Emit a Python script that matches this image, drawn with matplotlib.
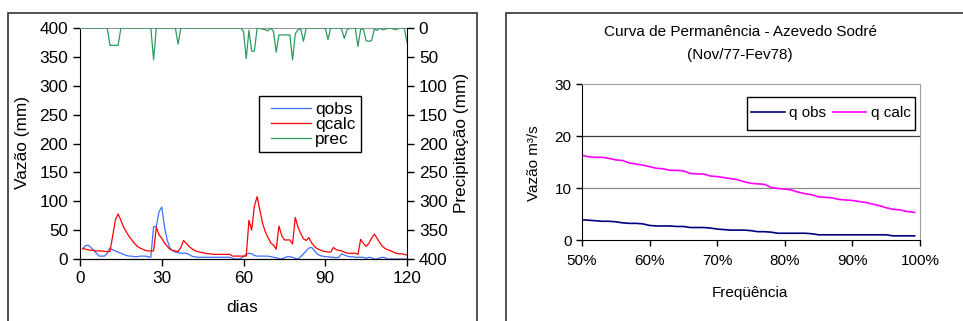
import matplotlib
matplotlib.use("Agg")
import matplotlib.pyplot as plt
from matplotlib.patches import Rectangle
from matplotlib.ticker import PercentFormatter, MultipleLocator

plt.rcParams['font.family'] = ['Liberation Sans', 'DejaVu Sans']

# ---------------- Data: left chart (daily series, days 1..120) ----------------
days = list(range(1, 121))
qobs = [18, 23, 24, 20, 15, 10, 5, 5, 5, 10,
        19, 16, 14, 12, 10, 8, 6, 5, 5, 4,
        4, 5, 5, 5, 4, 3, 56, 56, 82, 90,
        56, 33, 19, 14, 12, 11, 10, 10, 10, 8,
        5, 4, 3, 3, 3, 3, 3, 3, 3, 3,
        3, 3, 3, 3, 3, 1, 0, 0, 1, 4,
        8, 10, 9, 6, 5, 5, 5, 5, 5, 4,
        3, 2, 1, 0, 2, 4, 4, 3, 1, 0,
        4, 9, 14, 19, 20, 15, 9, 6, 5, 4,
        4, 3, 3, 2, 3, 9, 7, 5, 4, 4,
        3, 3, 3, 3, 1, 3, 2, 0, 0, 2,
        3, 2, 0, 0, 0, 0, 0, 0, 0, 0]
qcalc = [18, 17, 16, 15, 15, 14, 14, 14, 13, 13,
         13, 40, 68, 78, 67, 55, 47, 39, 33, 27,
         22, 19, 17, 15, 14, 14, 14, 55, 42, 36,
         28, 22, 17, 15, 14, 13, 20, 32, 27, 22,
         18, 15, 13, 12, 11, 10, 9, 9, 8, 8,
         8, 8, 8, 8, 8, 5, 5, 5, 5, 5,
         5, 67, 50, 92, 108, 85, 62, 47, 37, 28,
         24, 17, 57, 41, 33, 33, 33, 26, 72, 55,
         44, 35, 32, 37, 28, 22, 18, 16, 14, 13,
         12, 12, 20, 16, 15, 14, 12, 10, 10, 10,
         10, 8, 34, 27, 22, 27, 36, 43, 36, 28,
         22, 18, 16, 14, 12, 10, 9, 9, 8, 7]
prec = [0, 0, 0, 0, 0, 0, 0, 0, 0, 0,
        30, 30, 30, 30, 0, 0, 0, 0, 0, 0,
        0, 0, 0, 0, 0, 0, 55, 0, 0, 0,
        0, 0, 0, 0, 0, 28, 0, 0, 0, 0,
        0, 0, 0, 0, 0, 0, 0, 0, 0, 0,
        0, 0, 0, 0, 0, 0, 0, 0, 0, 6,
        53, 4, 40, 40, 0, 0, 2, 3, 5, 0,
        6, 42, 12, 12, 12, 12, 12, 55, 10, 3,
        1, 23, 0, 0, 0, 0, 0, 0, 0, 0,
        20, 0, 0, 0, 0, 2, 18, 3, 0, 0,
        0, 32, 2, 2, 22, 23, 22, 2, 4, 0,
        3, 2, 0, 0, 2, 3, 0, 0, 0, 25]

# ---------------- Data: right chart (flow duration curve) ----------------
freq = [0.50, 0.51, 0.52, 0.53, 0.54, 0.55, 0.56, 0.57, 0.58, 0.59,
        0.60, 0.61, 0.62, 0.63, 0.64, 0.65, 0.66, 0.67, 0.68, 0.69,
        0.70, 0.71, 0.72, 0.73, 0.74, 0.75, 0.76, 0.77, 0.78, 0.79,
        0.80, 0.81, 0.82, 0.83, 0.84, 0.85, 0.86, 0.87, 0.88, 0.89,
        0.90, 0.91, 0.92, 0.93, 0.94, 0.95, 0.96, 0.97, 0.98, 0.992]
q_obs = [3.9, 3.8, 3.7, 3.6, 3.6, 3.5, 3.3, 3.2, 3.2, 3.1,
         2.8, 2.7, 2.7, 2.7, 2.6, 2.6, 2.4, 2.4, 2.4, 2.3,
         2.1, 2.0, 1.9, 1.9, 1.9, 1.8, 1.6, 1.6, 1.5, 1.3,
         1.3, 1.3, 1.3, 1.3, 1.2, 1.0, 1.0, 1.0, 1.0, 1.0,
         1.0, 1.0, 1.0, 1.0, 1.0, 1.0, 0.8, 0.8, 0.8, 0.8]
q_calc = [16.3, 16.0, 15.9, 15.9, 15.7, 15.4, 15.3, 14.8, 14.6, 14.4,
          14.1, 13.8, 13.7, 13.4, 13.4, 13.3, 12.8, 12.7, 12.7, 12.3,
          12.2, 12.0, 11.8, 11.6, 11.2, 10.9, 10.8, 10.7, 10.1, 9.9,
          9.8, 9.6, 9.2, 8.9, 8.7, 8.3, 8.2, 8.1, 7.8, 7.7,
          7.6, 7.4, 7.2, 6.9, 6.6, 6.2, 5.9, 5.8, 5.5, 5.3]

W, H = 963, 321
fig = plt.figure(figsize=(W / 100, H / 100), dpi=100)

def fx(px):
    return px / W

def fy(py):
    return 1 - py / H

def box(x0, y0, x1, y1, ec='#333333', lw=1.2, z=1):
    fig.patches.append(Rectangle((fx(x0), fy(y1)), fx(x1) - fx(x0), fy(y0) - fy(y1),
                                 transform=fig.transFigure, fill=False, ec=ec, lw=lw,
                                 zorder=z))

# frames around each chart
box(8, 13, 477, 340)
box(506, 13, 1000, 340)

FS_L = 12.4
FS_R = 11

# ---------------- Left chart ----------------
ax = fig.add_axes([fx(80), fy(259), fx(407) - fx(80), fy(28) - fy(259)])
l1, = ax.plot(days, qobs, color='#3f6fff', lw=0.9, label='qobs')
l2, = ax.plot(days, qcalc, color='#ff0000', lw=0.9, label='qcalc')
ax.set_xlim(0, 120)
ax.set_ylim(0, 400)
ax.set_xticks([0, 30, 60, 90, 120])
ax.set_yticks(range(0, 401, 50))
ax.tick_params(direction='out', length=5, labelsize=FS_L, width=1)
ax.spines['top'].set_color('#999999')
ax.spines['right'].set_visible(False)

ax2 = ax.twinx()
l3, = ax2.plot(days, prec, color='#2e9a5e', lw=0.9, label='prec')
ax2.set_ylim(400, 0)
ax2.set_yticks(range(0, 401, 50))
ax2.tick_params(direction='out', length=5, labelsize=FS_L, width=1)
ax2.spines['top'].set_visible(False)
ax2.spines['left'].set_visible(False)

leg = ax2.legend(handles=[l1, l2, l3], loc='upper left',
                 bbox_to_anchor=(fx(271), fy(101.5)), bbox_transform=fig.transFigure,
                 fontsize=FS_L, frameon=False, borderpad=0,
                 labelspacing=0.0, handlelength=2.3, handletextpad=0.25,
                 borderaxespad=0)
box(259, 96, 361, 152, ec='black', lw=1.0, z=5)

fig.text(fx(23), fy(143), 'Vazão (mm)', rotation=90, ha='center', va='center', fontsize=FS_L)
fig.text(fx(461), fy(143), 'Precipitação (mm)', rotation=90, ha='center', va='center', fontsize=FS_L)
fig.text(fx(242), fy(308), 'dias', ha='center', va='center', fontsize=FS_L)

# ---------------- Right chart ----------------
bx = fig.add_axes([fx(582), fy(240), fx(920) - fx(582), fy(84) - fy(240)])
m1, = bx.plot(freq, q_obs, color='#000080', lw=1.2, label='q obs')
m2, = bx.plot(freq, q_calc, color='#ff00ff', lw=1.2, label='q calc')
bx.set_xlim(0.5, 1.0)
bx.set_ylim(0, 30)
bx.set_xticks([0.5, 0.6, 0.7, 0.8, 0.9, 1.0])
bx.xaxis.set_major_formatter(PercentFormatter(1.0, decimals=0))
bx.yaxis.set_major_locator(MultipleLocator(10))
bx.tick_params(direction='out', length=4, labelsize=FS_R, width=1)
bx.tick_params(axis='x', pad=6)
bx.axhline(10, color='#8a8a8a', lw=0.9, zorder=0)
bx.axhline(20, color='#404040', lw=0.9, zorder=0)
bx.spines['top'].set_color('#a0a0a0')
bx.spines['right'].set_color('#a0a0a0')

leg2 = bx.legend(handles=[m1, m2], loc='center left', ncol=2,
                 bbox_to_anchor=(fx(751), fy(113)), bbox_transform=fig.transFigure,
                 fontsize=FS_R, frameon=False, borderpad=0,
                 handlelength=2.2, handletextpad=0.28, columnspacing=0.45,
                 borderaxespad=0)
box(747, 97, 915, 130, ec='black', lw=1.0, z=5)

fig.text(fx(740), fy(32), 'Curva de Permanência - Azevedo Sodré', ha='center', va='center', fontsize=FS_R)
fig.text(fx(740), fy(55), '(Nov/77-Fev78)', ha='center', va='center', fontsize=FS_R)
fig.text(fx(534), fy(163), 'Vazão m³/s', rotation=90, ha='center', va='center', fontsize=FS_R)
fig.text(fx(750), fy(293), 'Freqüência', ha='center', va='center', fontsize=FS_R)

fig.savefig('out.png', dpi=100)
